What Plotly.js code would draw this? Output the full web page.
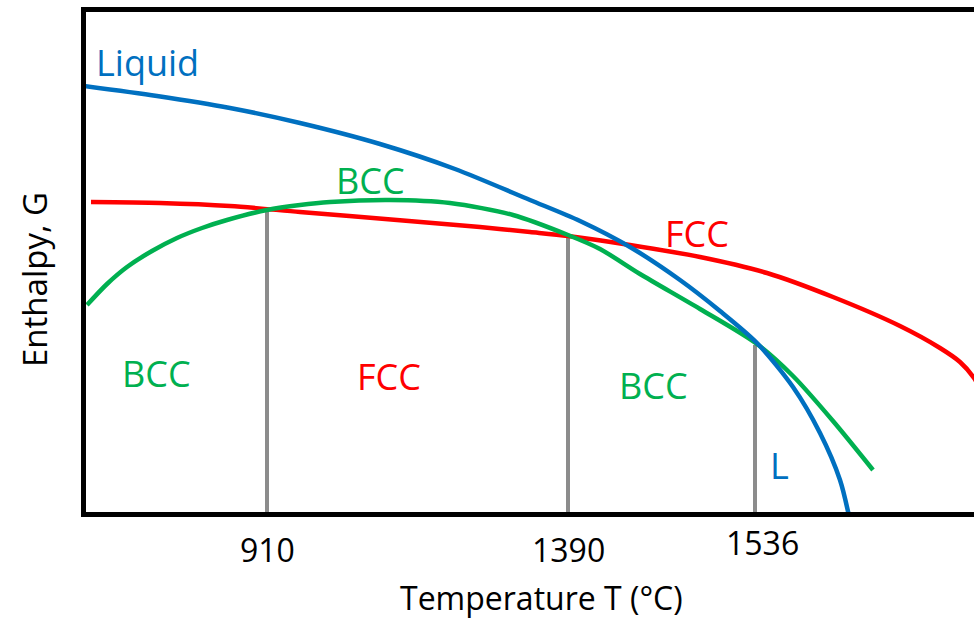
<!DOCTYPE html>
<html>
<head>
<meta charset="utf-8">
<script src="https://cdn.plot.ly/plotly-3.0.1.min.js"></script>
<style>html,body{margin:0;padding:0;background:#fff;}#chart{width:974px;height:626px;}</style>
</head>
<body>
<div id="chart"></div>
<script>
// Schematic axes (arbitrary units)
const liquidX = [-2, 71, 144, 214, 294, 369, 444, 494, 544, 594, 634, 671, 707, 734, 754, 763];
const liquidY = [426, 416, 404, 389, 368, 343, 312, 291, 265, 232, 201, 169, 125, 79, 32, -4];

const bccX = [1, 21, 41, 66, 91, 116, 141, 181, 214, 244, 304, 364, 427, 482, 514, 554, 614, 671, 707, 747, 787];
const bccY = [207, 228, 245, 261, 274, 284, 292, 302, 307, 310, 312, 309, 297, 277, 263, 238, 203, 168, 136, 91, 42];

const fccX = [5, 74, 144, 214, 311, 394, 444, 482, 544, 614, 681, 747, 814, 854, 874, 888, 899];
const fccY = [310, 309, 306, 300, 292, 285, 280, 276, 267, 255, 239, 215, 186, 164, 150, 134, 114];

// Transition temperatures: positions on the schematic axis, labels, and top of each marker line
const transX = [181, 482, 669];
const transTop = [303, 277, 167];
const tickLabels = ['910', '1390', '1536'];

// Phase labels
const phaseText = ['Liquid', 'BCC', 'FCC', 'BCC', 'FCC', 'BCC', 'L'];
const phaseX = [61, 284, 611, 70, 303, 567, 693];
const phaseY = [450, 332, 279, 139, 136, 127, 47];
const phaseColor = ['#0070C0', '#00B050', '#FF0000', '#00B050', '#FF0000', '#00B050', '#0070C0'];

const xTitle = 'Temperature T (°C)';
const yTitle = 'Enthalpy, G';

const FONT = '"Open Sans", "Noto Sans", sans-serif';

const traces = [];
transX.forEach((x, i) => {
  traces.push({x: [x, x], y: [0, transTop[i]], mode: 'lines', line: {color: '#8C8C8C', width: 4}, hoverinfo: 'skip', showlegend: false});
});
traces.push({x: fccX, y: fccY, mode: 'lines', name: 'FCC', line: {color: '#FF0000', width: 4.5, shape: 'spline', smoothing: 0.8}, showlegend: false});
traces.push({x: bccX, y: bccY, mode: 'lines', name: 'BCC', line: {color: '#00B050', width: 4.5, shape: 'spline', smoothing: 0.8}, showlegend: false});
traces.push({x: liquidX, y: liquidY, mode: 'lines', name: 'Liquid', line: {color: '#0070C0', width: 4.5, shape: 'spline', smoothing: 0.8}, showlegend: false});

const annotations = phaseText.map((t, i) => ({
  x: phaseX[i], y: phaseY[i], xref: 'x', yref: 'y', text: t, showarrow: false,
  font: {family: FONT, size: 36, color: phaseColor[i]}, xanchor: 'center', yanchor: 'middle'
}));
const tickShiftX = [0, 0, 7];
const tickShiftY = [-37, -37, -30];
tickLabels.forEach((t, i) => {
  annotations.push({x: transX[i], y: 0, xref: 'x', yref: 'paper', text: t, showarrow: false,
    xshift: tickShiftX[i], yshift: tickShiftY[i],
    font: {family: FONT, size: 32, color: '#000'}, xanchor: 'center', yanchor: 'middle'});
});
annotations.push({x: 0.5124, y: 0, xref: 'paper', yref: 'paper', text: xTitle, showarrow: false,
  yshift: -85, font: {family: FONT, size: 32, color: '#000'}, xanchor: 'center', yanchor: 'middle'});
annotations.push({x: 0, y: 0.464, xref: 'paper', yref: 'paper', text: yTitle, showarrow: false,
  textangle: -90, xshift: -52, font: {family: FONT, size: 33, color: '#000'}, xanchor: 'center', yanchor: 'middle'});

const layout = {
  width: 974, height: 626,
  margin: {l: 86, r: 0, t: 12, b: 114, pad: 0},
  paper_bgcolor: '#fff', plot_bgcolor: '#fff',
  font: {family: FONT, color: '#000'},
  xaxis: {range: [0, 888], showgrid: false, zeroline: false, showticklabels: false, ticks: '',
    showline: true, linecolor: '#000', linewidth: 5, mirror: true},
  yaxis: {range: [0, 500], showgrid: false, zeroline: false, showticklabels: false, ticks: '',
    showline: true, linecolor: '#000', linewidth: 5},
  annotations: annotations,
  showlegend: false
};

Plotly.newPlot('chart', traces, layout, {displayModeBar: false, staticPlot: true});
</script>
</body>
</html>
